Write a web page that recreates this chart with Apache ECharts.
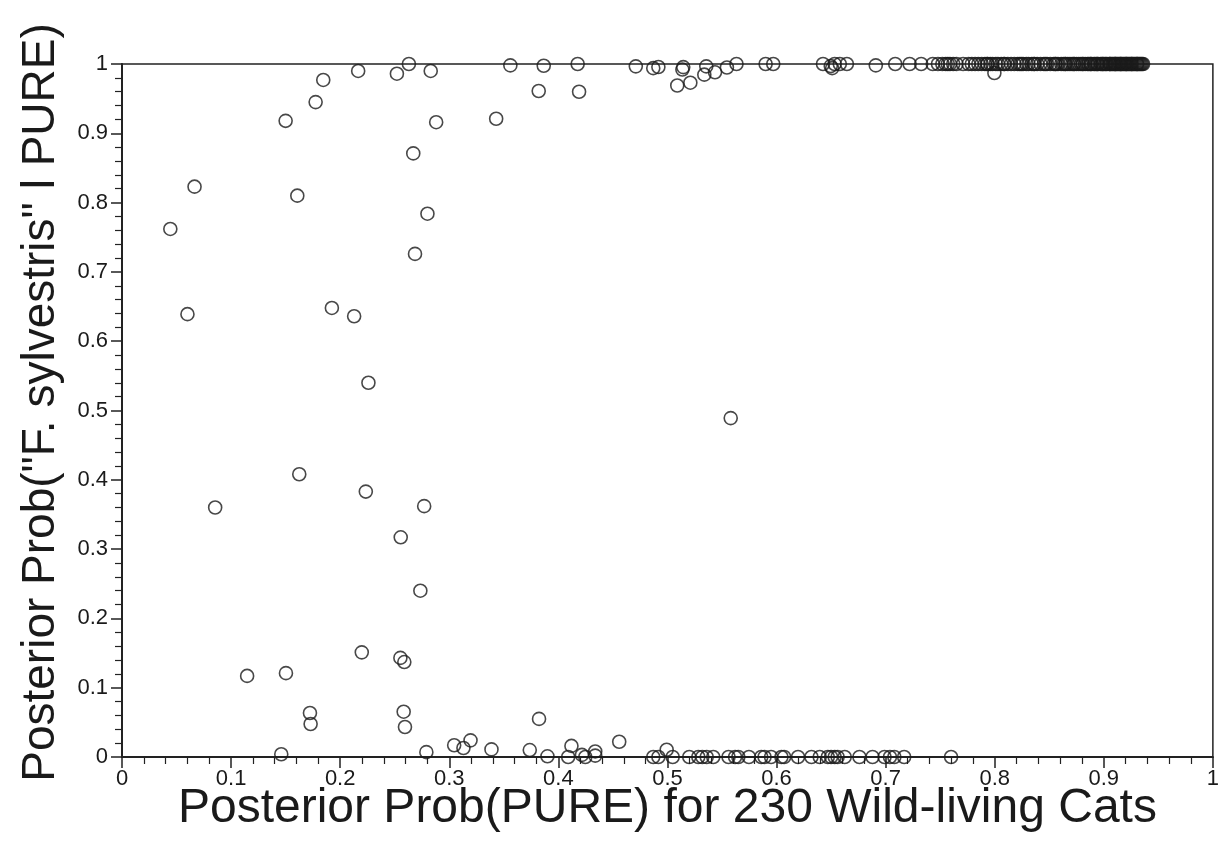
<!DOCTYPE html>
<html>
<head>
<meta charset="utf-8">
<script src="https://cdn.jsdelivr.net/npm/echarts@6/dist/echarts.min.js"></script>
<style>
html,body{margin:0;padding:0;background:#fff;}
#chart{width:1222px;height:858px;}
</style>
</head>
<body>
<div id="chart"></div>
<script>
// Tick labels
const xTicks = ["0","0.1","0.2","0.3","0.4","0.5","0.6","0.7","0.8","0.9","1"];
const yTicks = ["0","0.1","0.2","0.3","0.4","0.5","0.6","0.7","0.8","0.9","1"];

// Scattered points (x = P(PURE), y = P("F. sylvestris" | PURE))
const scatterPoints = [
  [0.263,1.0],[0.252,0.986],[0.283,0.990],[0.2165,0.990],[0.1845,0.977],[0.1775,0.945],
  [0.150,0.918],[0.288,0.916],[0.267,0.871],[0.0665,0.823],[0.1607,0.810],[0.280,0.784],
  [0.0443,0.762],[0.2686,0.726],[0.343,0.921],[0.060,0.639],[0.1924,0.648],[0.2128,0.636],
  [0.2259,0.540],[0.1625,0.408],[0.2235,0.383],[0.0854,0.360],[0.277,0.362],[0.2555,0.317],
  [0.2735,0.240],[0.2198,0.151],[0.2552,0.143],[0.2588,0.137],[0.1147,0.117],[0.1503,0.121],
  [0.1723,0.0635],[0.1729,0.0476],[0.2582,0.0654],[0.2594,0.0433],[0.558,0.489]
];

// Points near the top edge
const topRowPoints = [
  [0.356,0.998],[0.382,0.961],[0.3866,0.9975],[0.4177,1.0],[0.419,0.960],[0.471,0.9966],
  [0.487,0.994],[0.4917,0.9957],[0.509,0.969],[0.5137,0.992],[0.5145,0.9955],[0.521,0.973],
  [0.5338,0.9846],[0.5356,0.9966],[0.5436,0.988],[0.5545,0.995],[0.5633,1.0],[0.590,1.0],
  [0.597,1.0],[0.6426,1.0],[0.6497,0.997],[0.651,0.994],[0.6533,1.0],[0.658,1.0],
  [0.6645,1.0],[0.691,0.998],[0.7088,1.0],[0.722,1.0],[0.7326,1.0],[0.7432,1.0],[0.7997,0.987]
];

// Dense run of points at P = 1 (x values)
const topDenseX = [
  0.748,0.752,0.755,0.757,0.759,0.762,0.765,0.771,0.776,0.779,
  0.782,0.785,0.788,0.791,0.793,0.796,0.798,0.801,0.803,0.806,
  0.809,0.812,0.815,0.818,0.821,0.823,0.826,0.829,0.831,0.834,
  0.836,0.839,0.842,0.845,0.848,0.851,0.854,0.856,0.858,0.861,
  0.863,0.865,0.867,0.869,0.871,0.873,0.875,0.877,0.879,0.881,
  0.883,0.885,0.886,0.888,0.889,0.891,0.892,0.894,0.895,0.897,
  0.898,0.899,0.901,0.902,0.903,0.905,0.906,0.907,0.908,0.909,
  0.910,0.911,0.912,0.913,0.914,0.915,0.916,0.917,0.918,0.919,
  0.920,0.921,0.922,0.923,0.924,0.925,0.926,0.927,0.928,0.929,
  0.930,0.931,0.932,0.933,0.934,0.935,0.936,0.9305,0.9255,0.9205,
  0.9155,0.9105,0.9055,0.8995,0.8935,0.8875,0.8805,0.8725,0.8645,0.8555,
  0.8465,0.8365,0.8245,0.8085,0.7935
];
const topDenseY = 1.0;

// Points near the bottom edge
const bottomRowPoints = [
  [0.146,0.004],[0.279,0.007],[0.3045,0.017],[0.313,0.013],[0.3195,0.024],[0.3387,0.011],
  [0.3738,0.010],[0.3823,0.055],[0.390,0.001],[0.412,0.016],[0.409,0.0],[0.4216,0.003],
  [0.4247,0.0],[0.4338,0.008],[0.4338,0.002],[0.4558,0.022],[0.487,0],[0.4917,0],
  [0.4993,0.0105],[0.5048,0],[0.520,0],[0.5283,0],[0.532,0],[0.536,0],[0.542,0],
  [0.556,0],[0.562,0],[0.565,0],[0.5747,0],[0.586,0],[0.589,0],[0.595,0],[0.6045,0],
  [0.607,0],[0.6197,0],[0.632,0],[0.6396,0],[0.647,0],[0.650,0],[0.6533,0],[0.656,0],
  [0.6625,0],[0.676,0],[0.688,0],[0.699,0],[0.704,0],[0.708,0],[0.717,0],[0.760,0]
];

const allPoints = scatterPoints
  .concat(topRowPoints)
  .concat(topDenseX.map(x => [x, topDenseY]))
  .concat(bottomRowPoints);

const FONT = "'Liberation Sans', Arial, Helvetica, sans-serif";

const chart = echarts.init(document.getElementById('chart'), null, {renderer: 'canvas'});
chart.setOption({
  animation: false,
  backgroundColor: '#fff',
  grid: {
    left: 122, right: 6, top: 64, bottom: 101,
    show: true, borderColor: '#222', borderWidth: 1.5, backgroundColor: 'transparent'
  },
  xAxis: {
    type: 'value', min: 0, max: 1, interval: 0.1,
    name: 'Posterior Prob(PURE) for 230 Wild-living Cats',
    nameLocation: 'middle', nameGap: 28, nameMoveOverlap: false,
    nameTextStyle: {fontFamily: FONT, fontSize: 48, color: '#1a1a1a'},
    axisLine: {show: true, onZero: false, lineStyle: {color: '#222', width: 2}},
    axisTick: {show: true, inside: false, length: 11, lineStyle: {color: '#222', width: 1.5}},
    minorTick: {show: true, splitNumber: 5, length: 7, lineStyle: {color: '#222', width: 1.2}},
    splitLine: {show: false},
    axisLabel: {
      fontFamily: FONT, fontSize: 22, color: '#1a1a1a', margin: 11,
      formatter: (v) => xTicks[Math.round(v * 10)]
    }
  },
  yAxis: {
    type: 'value', min: 0, max: 1, interval: 0.1,
    name: 'Posterior Prob("F. sylvestris" l PURE)',
    nameLocation: 'middle', nameGap: 58, nameRotate: 90, nameMoveOverlap: false,
    nameTextStyle: {fontFamily: FONT, fontSize: 46, color: '#1a1a1a', padding: [0, 0, 0, 16]},
    axisLine: {show: true, onZero: false, lineStyle: {color: '#222', width: 2}},
    axisTick: {show: true, inside: false, length: 11, lineStyle: {color: '#222', width: 1.5}},
    minorTick: {show: true, splitNumber: 5, length: 7, lineStyle: {color: '#222', width: 1.2}},
    splitLine: {show: false},
    axisLabel: {
      fontFamily: FONT, fontSize: 22, color: '#1a1a1a', margin: 14,
      formatter: (v) => yTicks[Math.round(v * 10)]
    }
  },
  series: [{
    type: 'scatter',
    data: allPoints,
    symbol: 'circle',
    symbolSize: 13,
    clip: false,
    itemStyle: {color: 'rgba(0,0,0,0)', borderColor: '#1a1a1a', borderWidth: 1.6},
    emphasis: {disabled: true}
  }]
});
</script>
</body>
</html>
